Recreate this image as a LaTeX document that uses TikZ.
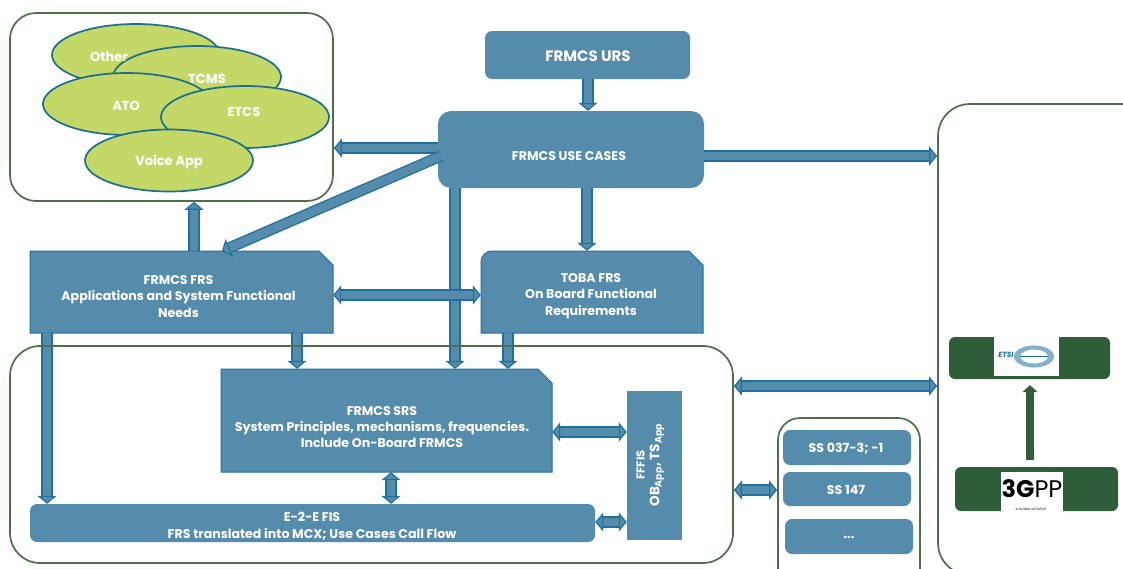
\documentclass[tikz,border=0pt]{standalone}
\usepackage{fontspec}
\setmainfont{Poppins}
\usetikzlibrary{arrows.meta,shapes.geometric,calc}
\definecolor{blk}{HTML}{568CAB}
\definecolor{edg}{HTML}{1F6F9F}
\definecolor{grn}{HTML}{4F6F4A}
\definecolor{dgr}{HTML}{2F5D38}
\definecolor{lim}{HTML}{C4D868}
\definecolor{ell}{HTML}{1D6E8F}
\newcommand{\snipbox}[9]{% name, x1,y1,x2,y2, corner style, text x, text y, text
  \path[fill=blk,draw=edg,line width=1pt] (#2,#5) [#6] -- (#2,#3) [sharp corners] -- ({#4-14},#3) -- (#4,{#3+14}) -- (#4,#5) -- cycle;
  \pgfmathsetmacro{\snipw}{#4-#2}\pgfmathsetmacro{\sniph}{#5-#3}
  \node[inner sep=0pt,minimum width=\snipw pt,minimum height=\sniph pt] (#1) at ({(#2+#4)/2},{(#3+#5)/2}) {};
  \node[txt] (t#1) at (#7,#8) {#9};}
\tikzset{
  txt/.style={text=white,font=\bfseries\fontsize{12.6}{16.4}\selectfont,align=center,inner sep=0pt},
  etxt/.style={text=white,font=\bfseries\fontsize{13}{15}\selectfont,inner sep=0pt},
  outer/.style={draw=grn,line width=1.7pt,fill=white,rounded corners=26pt,inner sep=0pt},
  blockbox/.style={fill=blk,rounded corners=7pt,inner sep=0pt},
  oval/.style={ellipse,draw=ell,line width=1.7pt,fill=lim,minimum width=168pt,minimum height=62pt,inner sep=0pt},
  fat/.style={line width=1.3pt,draw=edg,double=blk,double distance=8.5pt,
    -{Triangle[width=19pt,length=8pt,fill=blk,color=edg,line width=1.2pt]}},
  fatb/.style={line width=1.3pt,draw=edg,double=blk,double distance=8.5pt,
    {Triangle[width=19pt,length=8pt,fill=blk,color=edg,line width=1.2pt]}-{Triangle[width=19pt,length=8pt,fill=blk,color=edg,line width=1.2pt]}},
  grnbar/.style={fill=dgr,rounded corners=6pt},
  logo/.style={fill=white,inner sep=0pt}
}
\begin{document}
\begin{tikzpicture}[x=1pt,y=-1pt]
\useasboundingbox (0,0) rectangle (1123,568);
\clip (0,0) rectangle (1123,568);
% containers
\node[outer,minimum width=323pt,minimum height=188pt] (apps) at (171.5,107) {};
\node[outer,minimum width=723pt,minimum height=217pt,rounded corners=30pt] (low) at (371.5,454.5) {};
\node[outer,minimum width=142pt,minimum height=172pt,rounded corners=22pt] (ssbox) at (849,504) {};
\node[outer,minimum width=222pt,minimum height=471pt,rounded corners=32pt] (right) at (1049,339.5) {};
% ellipses
\node[oval] (other) at (136,55) {};
\node[oval] (tcms) at (197,77) {};
\node[oval] (ato) at (127,104) {};
\node[oval] (etcs) at (245,117) {};
\node[oval] (voice) at (169,160.5) {};
\node[etxt] (tother) at (109,57) {Other};
\node[etxt] (ttcms) at (207,78.5) {TCMS};
\node[etxt] (tato) at (126,106) {ATO};
\node[etxt] (tetcs) at (244,111.5) {ETCS};
\node[etxt] (tvoice) at (169,162.5) {Voice App};
% blocks
\node[blockbox,minimum width=205pt,minimum height=48pt] (urs) at (587.5,55) {};
\node[txt,font=\bfseries\fontsize{15}{17}\selectfont] (turs) at (588,56) {FRMCS URS};
\node[blockbox,minimum width=266pt,minimum height=77pt,rounded corners=13pt] (uc) at (571,149.5) {};
\node[txt] (tuc) at (569,156.5) {FRMCS USE CASES};
\snipbox{frs}{30}{251}{333}{333}{sharp corners}{178.5}{296.5}{FRMCS FRS\\Applications and System Functional\\Needs}
\snipbox{toba}{481}{251}{703}{333}{rounded corners=11pt}{591}{296}{TOBA FRS\\On Board Functional\\Requirements}
\snipbox{srs}{221}{369}{552}{472}{sharp corners}{382}{427}{FRMCS SRS\\System Principles, mechanisms, frequencies.\\Include On-Board FRMCS}
\node[blockbox,minimum width=565pt,minimum height=38pt] (e2e) at (312.5,523) {};
\node[txt] (te2e) at (312,526) {E-2-E FIS\\FRS translated into MCX; Use Cases Call Flow};
\node[blockbox,rounded corners=0pt,minimum width=55pt,minimum height=149pt] (fffis) at (654.5,465.5) {};
\node[txt,rotate=90,font=\bfseries\fontsize{11.5}{13}\selectfont] (tfffisa) at (640.5,465) {FFFIS};
\node[txt,rotate=90,font=\bfseries\fontsize{13.5}{16}\selectfont] (tfffisb) at (657,465) {OB\textsubscript{App}, TS\textsubscript{App}};
\node[blockbox,minimum width=128pt,minimum height=35pt] (ss1) at (847,447.5) {};
\node[txt] (tss1) at (846,449) {SS 037-3; -1};
\node[blockbox,minimum width=128pt,minimum height=34pt] (ss2) at (847,489) {};
\node[txt] (tss2) at (846,490) {SS 147};
\node[blockbox,minimum width=128pt,minimum height=35pt] (ss3) at (849,536.5) {};
\node[txt] (tss3) at (849,537) {...};
% right column
\node[grnbar,minimum width=161pt,minimum height=42pt] (etsibar) at (1029.5,358) {};
\node[logo,minimum width=65pt,minimum height=39pt] (etsi) at (1026.5,356.5) {};
\path[fill=edg!55,even odd rule] (1034,356.5) ellipse (20pt and 11pt) (1034,356.5) ellipse (14pt and 7pt);
\draw[edg,line width=.6pt] (1020,356.5) -- (1048,356.5);
\node[text=edg,font=\bfseries\itshape\fontsize{7.5}{8}\selectfont,inner sep=0pt] (etsit) at (1006,355) {ETSI};
\node[grnbar,minimum width=163pt,minimum height=44pt] (gppbar) at (1036.5,489) {};
\node[logo,minimum width=62pt,minimum height=40pt] (gpp) at (1032,492) {};
\node[text=black,font=\fontsize{24}{26}\selectfont,inner sep=0pt] (gppt) at (1032,489) {\textbf{3G}PP};
\node[text=black,font=\fontsize{3.2}{4}\selectfont,inner sep=0pt] (gpps) at (1031,509) {A GLOBAL INITIATIVE};
\coordinate (xgr) at (1030,0);
\draw[line width=8pt,dgr,-{Triangle[width=15pt,length=7pt]},shorten <=7pt,shorten >=6pt] (gppbar.north -| xgr) -- (etsibar.south -| xgr);
% connectors
\coordinate (xa) at (588,0);
\coordinate (xb) at (455,0);
\coordinate (xc) at (587,0);
\coordinate (xd) at (194,0);
\coordinate (xe) at (47,0);
\coordinate (xf) at (297,0);
\coordinate (xg) at (508,0);
\coordinate (xh) at (391,0);
\coordinate (ya) at (0,148);
\coordinate (yb) at (0,156);
\coordinate (yc) at (0,295);
\coordinate (yd) at (0,432);
\coordinate (ye) at (0,522);
\coordinate (yf) at (0,386);
\coordinate (yg) at (0,490);
\coordinate (dga) at (441,156);
\coordinate (dgb) at (222,251);
\draw[fat] (urs.south -| xa) -- (uc.north -| xa);
\draw[fat] (uc.west |- ya) -- (apps.east |- ya);
\draw[fat] (dga) -- (dgb);
\draw[fat] (uc.south -| xb) -- (srs.north -| xb);
\draw[fat] (uc.south -| xc) -- (toba.north -| xc);
\draw[fat] (uc.east |- yb) -- (right.west |- yb);
\draw[fat] (frs.north -| xd) -- (apps.south -| xd);
\draw[fatb] (frs.east |- yc) -- (toba.west |- yc);
\draw[fat] (frs.south -| xe) -- (e2e.north -| xe);
\draw[fat] (frs.south -| xf) -- (srs.north -| xf);
\draw[fat] (toba.south -| xg) -- (srs.north -| xg);
\draw[fatb] (srs.south -| xh) -- (e2e.north -| xh);
\draw[fatb] (srs.east |- yd) -- (fffis.west |- yd);
\draw[fatb] (e2e.east |- ye) -- (fffis.west |- ye);
\draw[fatb] (low.east |- yf) -- (right.west |- yf);
\draw[fatb] (low.east |- yg) -- (ssbox.west |- yg);
% frame line passes over the connectors
\draw[grn,line width=1.3pt] (40,346) -- (700,346);
\end{tikzpicture}
\end{document}
